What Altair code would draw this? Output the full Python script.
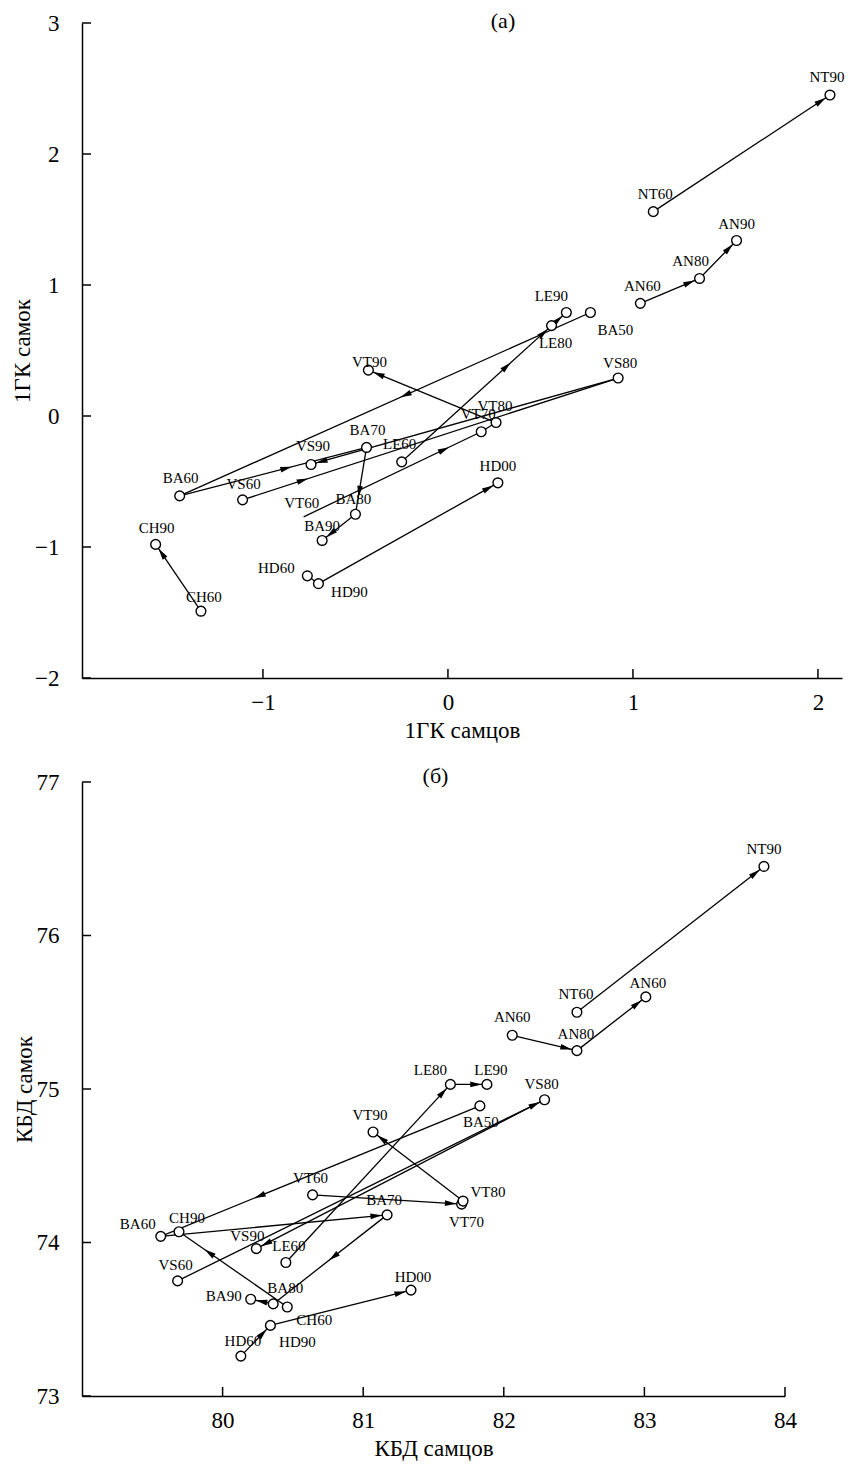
import math
import altair as alt
import pandas as pd

FONT = "Liberation Serif"

# ---------------- data ----------------
IDS = ["NT60", "NT90", "AN60", "AN80", "AN90", "LE60", "LE80", "LE90",
       "BA50", "BA60", "BA70", "BA80", "BA90", "VS60", "VS80", "VS90",
       "VT60", "VT70", "VT80", "VT90", "CH60", "CH90", "HD60", "HD90", "HD00"]

# panel (a): 1GK
A_X = [1.11, 2.065, 1.04, 1.36, 1.56, -0.25, 0.56, 0.64,
       0.77, -1.45, -0.44, -0.50, -0.68, -1.11, 0.92, -0.74,
       -0.78, 0.18, 0.26, -0.43, -1.335, -1.58, -0.76, -0.70, 0.27]
A_Y = [1.56, 2.45, 0.86, 1.05, 1.34, -0.35, 0.69, 0.79,
       0.79, -0.61, -0.24, -0.75, -0.95, -0.64, 0.29, -0.37,
       -0.77, -0.12, -0.05, 0.35, -1.49, -0.98, -1.22, -1.28, -0.51]
A_LABELS = list(IDS)

# panel (b): KBD
B_X = [82.52, 83.85, 82.06, 82.52, 83.01, 80.45, 81.62, 81.88,
       81.83, 79.56, 81.17, 80.36, 80.20, 79.68, 82.29, 80.24,
       80.64, 81.70, 81.71, 81.07, 80.46, 79.69, 80.13, 80.34, 81.34]
B_Y = [75.50, 76.45, 75.35, 75.25, 75.60, 73.87, 75.03, 75.03,
       74.89, 74.04, 74.18, 73.60, 73.63, 73.75, 74.93, 73.96,
       74.31, 74.25, 74.27, 74.72, 73.58, 74.07, 73.26, 73.46, 73.69]
B_LABELS = [("AN60" if i == "AN90" else i) for i in IDS]

CHAINS = [["NT60", "NT90"], ["AN60", "AN80", "AN90"], ["LE60", "LE80", "LE90"],
          ["BA50", "BA60", "BA70", "BA80", "BA90"], ["VS60", "VS80", "VS90"],
          ["VT60", "VT70", "VT80", "VT90"], ["CH60", "CH90"], ["HD60", "HD90", "HD00"]]

A_XTICKS = [-1, 0, 1, 2]
A_YTICKS = [-2, -1, 0, 1, 2, 3]
B_XTICKS = [80, 81, 82, 83, 84]
B_YTICKS = [73, 74, 75, 76, 77]

# ---------------- styling / placement ----------------
A_OFF = {"NT60": (2, -18), "NT90": (-3, -18), "AN60": (2, -17), "AN80": (-9, -17),
         "AN90": (0, -16), "LE60": (-2, -18), "LE80": (4, 17), "LE90": (-15, -17),
         "BA50": (25, 17), "BA60": (1, -18), "BA70": (1, -17), "BA80": (-2, -15),
         "BA90": (0, -14), "VS60": (1, -16), "VS80": (2, -15), "VS90": (2, -18),
         "VT60": (-2, -14), "VT70": (-3, -18), "VT80": (-1, -17), "VT90": (1, -8),
         "CH60": (3, -14), "CH90": (1, -16), "HD60": (-31, -8), "HD90": (31, 8),
         "HD00": (0, -17)}
B_OFF = {"NT60": (-1, -18), "NT90": (0, -17), "AN60": (0, -18), "AN80": (-1, -17),
         "AN90": (2, -14), "LE60": (3, -16), "LE80": (-20, -14), "LE90": (4, -14),
         "BA50": (1, 16), "BA60": (-23, -12), "BA70": (-3, -15), "BA80": (12, -16),
         "BA90": (-27, -3), "VS60": (-2, -16), "VS80": (-3, -16), "VS90": (-9, -13),
         "VT60": (-2, -17), "VT70": (5, 18), "VT80": (25, -9), "VT90": (-3, -17),
         "CH60": (27, 13), "CH90": (8, -14), "HD60": (2, -15), "HD90": (27, 17),
         "HD00": (2, -13)}

A_ARROWS = {("NT60", "NT90"): ["end"], ("AN60", "AN80"): ["end"], ("AN80", "AN90"): ["end"],
            ("LE60", "LE80"): [0.70, "end"], ("LE80", "LE90"): ["end"],
            ("BA50", "BA60"): [0.45], ("BA60", "BA70"): [0.57], ("BA70", "BA80"): [0.66],
            ("BA80", "BA90"): ["end"], ("VS60", "VS80"): [0.16], ("VS80", "VS90"): ["end"],
            ("VT60", "VT70"): [0.79], ("VT80", "VT90"): ["end"], ("CH60", "CH90"): ["end"],
            ("HD90", "HD00"): ["end"]}
B_ARROWS = {("NT60", "NT90"): ["end"], ("AN60", "AN80"): ["end"], ("AN80", "AN90"): ["end"],
            ("LE60", "LE80"): ["end"], ("LE80", "LE90"): ["end"],
            ("BA50", "BA60"): [0.69], ("BA60", "BA70"): ["end"], ("BA70", "BA80"): [0.47],
            ("BA80", "BA90"): ["end"], ("VS60", "VS80"): ["end"], ("VS80", "VS90"): ["end"],
            ("VT60", "VT70"): ["end"], ("VT80", "VT90"): ["end"], ("CH60", "CH90"): [0.72],
            ("HD60", "HD90"): ["end"], ("HD90", "HD00"): ["end"]}

ARROW_PATH = "M0,-1L0.5,1L-0.5,1Z"


def panel(xs, ys, labels, offs, arrows, hidden, xdom, ydom, W, H,
          xt, yt, xtitle, ytitle, ptitle, tdx, ty):
    kx = W / (xdom[1] - xdom[0])
    ky = H / (ydom[1] - ydom[0])
    pos = dict(zip(IDS, zip(xs, ys)))
    pts = pd.DataFrame({"id": IDS, "x": xs, "y": ys, "label": labels})
    pts["lx"] = [x + offs[i][0] / kx for i, x in zip(IDS, xs)]
    pts["ly"] = [y - offs[i][1] / ky for i, y in zip(IDS, ys)]
    circ = pts[~pts["id"].isin(hidden)]

    segs, arr = [], []
    for chain in CHAINS:
        for a, b in zip(chain[:-1], chain[1:]):
            x1, y1 = pos[a]
            x2, y2 = pos[b]
            segs.append({"x1": x1, "y1": y1, "x2": x2, "y2": y2})
            dxs = (x2 - x1) * kx
            dys = -(y2 - y1) * ky
            L = math.hypot(dxs, dys)
            ang = math.degrees(math.atan2(dxs, -dys)) % 360
            for p in arrows.get((a, b), []):
                if p == "end":
                    back = 11.0
                    ax = x2 - dxs / L * back / kx
                    ay = y2 + dys / L * back / ky
                else:
                    ax = x1 + p * (x2 - x1)
                    ay = y1 + p * (y2 - y1)
                arr.append({"x": ax, "y": ay, "angle": ang})
    segs = pd.DataFrame(segs)
    arr = pd.DataFrame(arr)

    common = dict(domainColor="black", domainWidth=1.5, ticks=False, grid=False,
                  labelFont=FONT, labelFontSize=23, labelColor="black",
                  labelFlush=False, labelOverlap=False, labelBound=False,
                  titleFont=FONT, titleFontSize=23, titleFontWeight="normal",
                  titleColor="black")
    xaxis = alt.Axis(values=xt, title=xtitle, labelPadding=13, titlePadding=5, **common)
    yaxis = alt.Axis(values=yt, title=ytitle, labelPadding=23, titlePadding=0, **common)
    xs_ = alt.Scale(domain=xdom, nice=False, zero=False)
    ys_ = alt.Scale(domain=ydom, nice=False, zero=False)

    def X(f):
        return alt.X(f"{f}:Q", scale=xs_, axis=xaxis)

    def Y(f):
        return alt.Y(f"{f}:Q", scale=ys_, axis=yaxis)

    lines = alt.Chart(segs).mark_rule(color="black", strokeWidth=1.3).encode(
        x=X("x1"), y=Y("y1"), x2="x2:Q", y2="y2:Q")
    heads = alt.Chart(arr).mark_point(shape=ARROW_PATH, filled=True, color="black",
                                      size=130, opacity=1, strokeWidth=0).encode(
        x=X("x"), y=Y("y"), angle=alt.Angle("angle:Q", scale=None))
    dots = alt.Chart(circ).mark_point(shape="circle", filled=True, fill="white",
                                      stroke="black", strokeWidth=1.4, size=95,
                                      opacity=1).encode(x=X("x"), y=Y("y"))
    text = alt.Chart(pts).mark_text(font=FONT, fontSize=15, color="black",
                                    align="center", baseline="middle").encode(
        x=X("lx"), y=Y("ly"), text="label:N")
    xtk = alt.Chart(pd.DataFrame({"x": xt})).mark_rule(color="black", strokeWidth=1.5).encode(
        x=X("x"), y=alt.value(H), y2=alt.value(H - 9))
    ytk = alt.Chart(pd.DataFrame({"y": yt})).mark_rule(color="black", strokeWidth=1.5).encode(
        y=Y("y"), x=alt.value(0), x2=alt.value(9))
    ttl = alt.Chart(pd.DataFrame({"t": [ptitle]})).mark_text(
        font=FONT, fontSize=22, color="black", align="center", baseline="middle").encode(
        text="t:N", x=alt.value(W / 2 + tdx), y=alt.value(ty))

    return alt.layer(lines, heads, dots, text, xtk, ytk, ttl).properties(width=W, height=H)


pa = panel(A_X, A_Y, A_LABELS, A_OFF, A_ARROWS, ["VT60"], [-1.978, 2.13], [-2, 3],
           760, 655, A_XTICKS, A_YTICKS, "1ГК самцов", "1ГК самок", "(a)", 41, -2)
pb = panel(B_X, B_Y, B_LABELS, B_OFF, B_ARROWS, [], [79, 84], [73, 77],
           703, 614, B_XTICKS, B_YTICKS, "КБД самцов", "КБД самок", "(б)", 2, -6)

chart = alt.vconcat(pa, pb, spacing=23).properties(
    padding={"left": 3, "top": 2, "right": 5, "bottom": 5}
).configure_view(stroke=None)

chart.save("out.html", embed_options={"renderer": "svg", "actions": False})
